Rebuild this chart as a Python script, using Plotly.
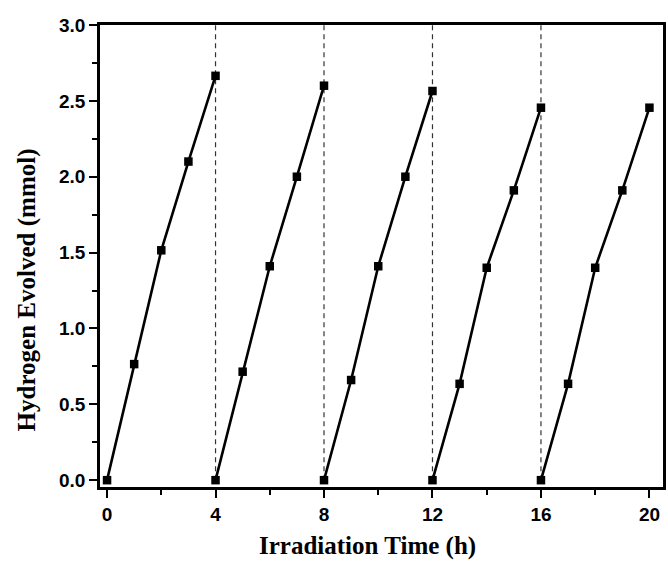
import plotly.graph_objects as go

# Data: hydrogen evolved (mmol) over five 4-h cycles
cycle_times = [
    [0, 1, 2, 3, 4],
    [4, 5, 6, 7, 8],
    [8, 9, 10, 11, 12],
    [12, 13, 14, 15, 16],
    [16, 17, 18, 19, 20],
]
cycle_values = [
    [0.0, 0.765, 1.515, 2.10, 2.665],
    [0.0, 0.715, 1.41, 2.00, 2.60],
    [0.0, 0.66, 1.41, 2.00, 2.565],
    [0.0, 0.635, 1.40, 1.91, 2.455],
    [0.0, 0.635, 1.40, 1.91, 2.455],
]
divider_times = [4, 8, 12, 16]
x_tick_vals = [0, 4, 8, 12, 16, 20]
x_tick_labels = ["0", "4", "8", "12", "16", "20"]
y_tick_vals = [0.0, 0.5, 1.0, 1.5, 2.0, 2.5, 3.0]
y_tick_labels = ["0.0", "0.5", "1.0", "1.5", "2.0", "2.5", "3.0"]
x_title = "Irradiation Time (h)"
y_title = "Hydrogen Evolved (mmol)"

fig = go.Figure()

# dashed dividers between cycles
dx, dy = [], []
for t in divider_times:
    dx += [t, t, None]
    dy += [0.0, 3.0, None]
fig.add_trace(go.Scatter(x=dx, y=dy, mode="lines",
                         line=dict(color="#333333", width=1.2, dash="5px,4px"),
                         hoverinfo="skip", showlegend=False))

for xs, ys in zip(cycle_times, cycle_values):
    fig.add_trace(go.Scatter(x=xs, y=ys, mode="lines+markers",
                             line=dict(color="black", width=2.6),
                             marker=dict(symbol="square", size=8.5, color="black"),
                             cliponaxis=False, showlegend=False))

tickfont = dict(family="Liberation Sans, Arial, sans-serif", size=19, color="black")
titlefont = dict(family="Liberation Serif, Times New Roman, serif", size=25, color="black", weight="bold")

fig.update_layout(
    width=668, height=561,
    margin=dict(l=100, r=2, t=25, b=74),
    plot_bgcolor="white", paper_bgcolor="white",
    xaxis=dict(
        range=[-0.26, 20.5], tickvals=x_tick_vals,
        ticktext=[f"<b>{t}</b>" for t in x_tick_labels],
        ticks="outside", ticklen=8, tickwidth=2, tickcolor="black",
        showline=True, linewidth=2.5, linecolor="black", mirror=True,
        showgrid=False, zeroline=False, tickfont=tickfont,
        minor=dict(dtick=2, tick0=0, ticks="outside", ticklen=5, tickwidth=2, tickcolor="black", showgrid=False),
    ),
    yaxis=dict(
        range=[-0.045, 3.0], tickvals=y_tick_vals,
        ticktext=[f"<b>{t}</b>" for t in y_tick_labels],
        ticks="outside", ticklen=8, tickwidth=2, tickcolor="black",
        showline=True, linewidth=2.5, linecolor="black", mirror=True,
        showgrid=False, zeroline=False, tickfont=tickfont,
        minor=dict(dtick=0.25, tick0=0, ticks="outside", ticklen=5, tickwidth=2, tickcolor="black", showgrid=False),
    ),
    annotations=[
        dict(text=f"<b>{x_title}</b>", xref="paper", yref="paper",
             x=(369 - 100) / 566, y=(487 - 546) / 462, xanchor="center", yanchor="middle",
             showarrow=False, font=titlefont),
        dict(text=f"<b>{y_title}</b>", xref="paper", yref="paper",
             x=(27 - 100) / 566, y=(487 - 290) / 462, xanchor="center", yanchor="middle",
             textangle=-90, showarrow=False, font=titlefont),
    ],
)

fig.write_html("out.html")
